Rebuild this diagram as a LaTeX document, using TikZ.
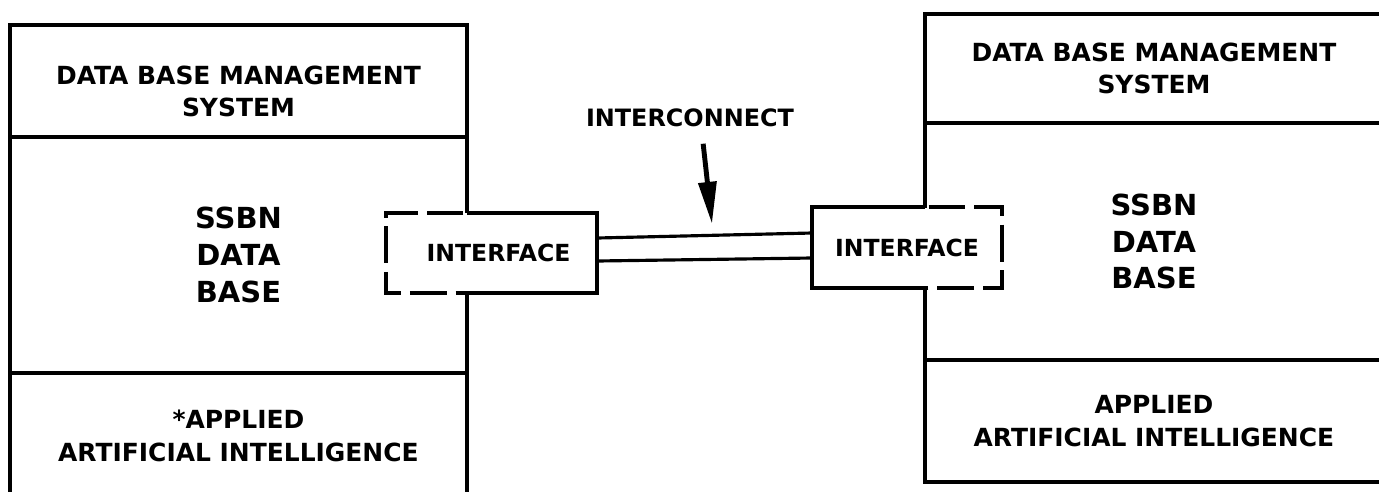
\documentclass[tikz,border=0pt]{standalone}
\usepackage{fontspec}
\setmainfont{DejaVu Sans}
\usetikzlibrary{arrows.meta,positioning}

\begin{document}
\begin{tikzpicture}[
    x=0.02cm, y=-0.02cm,
    node distance = 0pt,
    sect/.style  = {draw, line width=2.2pt, outer sep=0pt, inner sep=0pt,
                    align=center, font=\bfseries\fontsize{14.2}{18.5}\selectfont},
    big/.style   = {font=\bfseries\fontsize{16.5}{21}\selectfont},
    iface/.style = {fill=white, minimum width=#1, minimum height=1.6cm, inner sep=0pt,
                    font=\bfseries\fontsize{13.4}{16}\selectfont},
    wall/.style  = {line width=2.2pt},
    gap/.style   = {line width=2.2pt, dash pattern=on 21pt off 5pt, dash phase=24pt},
    link/.style  = {line width=1.8pt},
    arr/.style   = {-{Triangle[length=24pt,width=10pt]}, line width=2.8pt},
  ]
    \useasboundingbox (0,0) rectangle (1379,491);

    % left system
    \node[sect, minimum width=9.14cm, minimum height=2.24cm, anchor=north west]
      (dbmsL) at (10,25) {\\[4pt]DATA BASE MANAGEMENT\\SYSTEM};
    \node[sect, big, minimum width=9.14cm, minimum height=4.72cm, below=of dbmsL]
      (ssbnL) {SSBN\\DATA\\BASE};
    \node[sect, minimum width=9.14cm, minimum height=2.52cm, below=of ssbnL]
      (aiL) {*APPLIED\\ARTIFICIAL INTELLIGENCE};

    % right system
    \node[sect, minimum width=9.16cm, minimum height=2.18cm, anchor=north west]
      (dbmsR) at (925,14) {DATA BASE MANAGEMENT\\SYSTEM};
    \node[sect, big, minimum width=9.16cm, minimum height=4.74cm, below=of dbmsR]
      (ssbnR) {SSBN\\DATA\\BASE};
    \node[sect, minimum width=9.16cm, minimum height=2.44cm, below=of ssbnR]
      (aiR) {APPLIED\\ARTIFICIAL INTELLIGENCE};

    % interfaces
    \node[iface=4.22cm] (ifL) at (491.5,253) {\hspace{8pt}INTERFACE};
    \node[iface=3.8cm]  (ifR) at (907,247.5) {INTERFACE};

    \draw[wall] (ifL.north west -| ssbnL.east) -- (ifL.north east)
                -- (ifL.south east) -- (ifL.south west -| ssbnL.east);
    \draw[gap]  (ifL.north west -| ssbnL.east) -- (ifL.north west)
                -- (ifL.south west) -- (ifL.south west -| ssbnL.east);

    \draw[wall] (ifR.north east -| ssbnR.west) -- (ifR.north west)
                -- (ifR.south west) -- (ifR.south east -| ssbnR.west);
    \draw[gap]  (ifR.north east -| ssbnR.west) -- (ifR.north east)
                -- (ifR.south east) -- (ifR.south east -| ssbnR.west);

    % interconnect
    \draw[link] ([yshift=0.30cm]ifL.east)  -- ([yshift=0.29cm]ifR.west);
    \draw[link] ([yshift=-0.16cm]ifL.east) -- ([yshift=-0.21cm]ifR.west);

    \node[font=\bfseries\fontsize{13.6}{16}\selectfont] (ic) at (690,118) {INTERCONNECT};
    \coordinate (icTip) at (712,224);
    \draw[arr, shorten <=6pt] ([xshift=0.24cm]ic.south) -- (icTip);
  \end{tikzpicture}
\end{document}
